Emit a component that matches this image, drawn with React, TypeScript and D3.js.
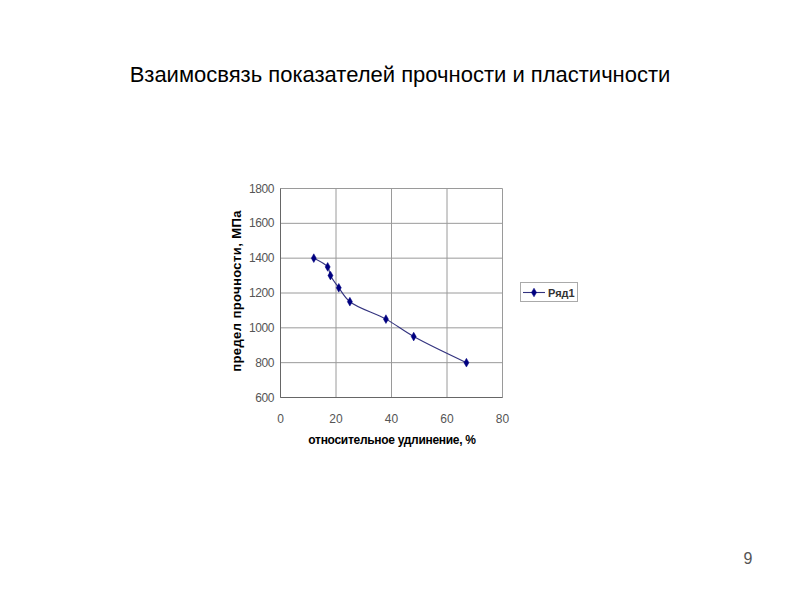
import React from "react";
import * as d3 from "d3";

const elongation = [12, 17, 18, 21, 25, 38, 48, 67];
const strength = [1400, 1350, 1300, 1230, 1150, 1050, 950, 800];
const xTicks = [0, 20, 40, 60, 80];
const yTicks = [600, 800, 1000, 1200, 1400, 1600, 1800];
const seriesName = "Ряд1";
const title = "Взаимосвязь показателей прочности и пластичности";
const xTitle = "относительное удлинение, %";
const yTitle = "предел прочности, МПа";
const pageNumber = "9";

export default function App() {
  const x = d3.scaleLinear().domain([0, 80]).range([280.5, 502.5]);
  const y = d3.scaleLinear().domain([600, 1800]).range([397.5, 188.5]);
  const pts: [number, number][] = elongation.map((e, i) => [x(e), y(strength[i])]);
  const line = d3.line().curve(d3.curveCatmullRom.alpha(0.5))(pts) || "";
  const diamond = d3.symbol().type(d3.symbolDiamond).size(22)() || "";
  const navy = "#000080";
  const font = "Liberation Sans, Arial, sans-serif";
  return (
    <svg width={800} height={600} style={{ position: "absolute", left: 0, top: 0, background: "#fff" }}>
      <rect x={0} y={0} width={800} height={600} fill="#fff" />
      <text x={400} y={82} textAnchor="middle" fontFamily={font} fontSize={22} fill="#000">{title}</text>
      <text x={748} y={564} textAnchor="middle" fontFamily={font} fontSize={16} fill="#555">{pageNumber}</text>
      {xTicks.map((t) => (
        <line key={"gx" + t} x1={x(t)} x2={x(t)} y1={y(1800)} y2={y(600)} stroke="#9a9a9a" strokeWidth={1} />
      ))}
      {yTicks.map((t) => (
        <line key={"gy" + t} x1={x(0)} x2={x(80)} y1={y(t)} y2={y(t)} stroke="#9a9a9a" strokeWidth={1} />
      ))}
      <line x1={x(0)} x2={x(0)} y1={y(1800)} y2={y(600)} stroke="#666" />
      <line x1={x(0)} x2={x(80)} y1={y(600)} y2={y(600)} stroke="#666" />
      {yTicks.map((t) => (
        <text key={"ty" + t} x={274} y={y(t) + 4} textAnchor="end" fontFamily={font} fontSize={12} fill="#555" letterSpacing={-0.4}>{t}</text>
      ))}
      {xTicks.map((t) => (
        <text key={"tx" + t} x={x(t)} y={423} textAnchor="middle" fontFamily={font} fontSize={12} fill="#555">{t}</text>
      ))}
      <text x={392} y={444} textAnchor="middle" fontFamily={font} fontSize={12} fontWeight="bold" fill="#000" letterSpacing={-0.3}>{xTitle}</text>
      <text transform={`translate(241,291) rotate(-90)`} textAnchor="middle" fontFamily={font} fontSize={13} fontWeight="bold" fill="#000" letterSpacing={0.4}>{yTitle}</text>
      <path d={line} fill="none" stroke="#33337f" strokeWidth={1.1} />
      {pts.map((p, i) => (
        <path key={"m" + i} d={diamond} transform={`translate(${p[0]},${p[1]})`} fill={navy} stroke={navy} strokeWidth={0.5} />
      ))}
      <rect x={520.5} y={282.5} width={57} height={19} fill="#fff" stroke="#aaa" />
      <line x1={523} x2={545} y1={292.5} y2={292.5} stroke="#33337f" strokeWidth={1.1} />
      <path d={diamond} transform="translate(534,292.5)" fill={navy} stroke={navy} strokeWidth={0.5} />
      <text x={548} y={296.5} fontFamily={font} fontSize={11} fontWeight="bold" fill="#333">{seriesName}</text>
    </svg>
  );
}
